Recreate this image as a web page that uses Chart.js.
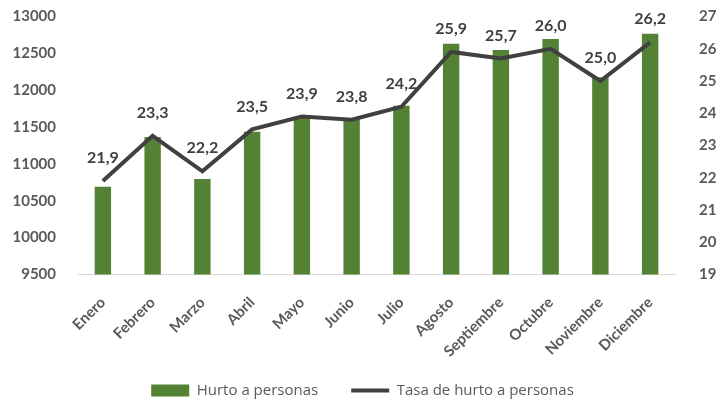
<!DOCTYPE html>
<html>
<head>
<meta charset="utf-8">
<script src="https://cdn.jsdelivr.net/npm/chart.js@4.4.1/dist/chart.umd.min.js"></script>
<style>
  html, body { margin: 0; padding: 0; background: #ffffff; }
  #wrap { width: 725px; height: 403px; position: relative; }
</style>
</head>
<body>
<div id="wrap"><canvas id="c" width="725" height="403"></canvas></div>
<script>
const months = ["Enero","Febrero","Marzo","Abril","Mayo","Junio","Julio","Agosto","Septiembre","Octubre","Noviembre","Diciembre"];
const hurtoPersonas = [10690, 11365, 10795, 11435, 11625, 11605, 11790, 12630, 12545, 12695, 12175, 12765];
const tasaHurto = [21.9, 23.3, 22.2, 23.5, 23.9, 23.8, 24.2, 25.9, 25.7, 26.0, 25.0, 26.2];
const leftTicks = [9500, 10000, 10500, 11000, 11500, 12000, 12500, 13000];
const rightTicks = [19, 20, 21, 22, 23, 24, 25, 26, 27];

const FONT = "Lato, 'Open Sans', sans-serif";
const LEGEND_FONT = "'Open Sans', Lato, sans-serif";
const GREEN = "#548235";
const DARK = "#404040";
const GREY = "#595959";

const labelPlugin = {
  id: 'lineLabels',
  afterDatasetsDraw(chart) {
    const meta = chart.getDatasetMeta(1);
    const ctx = chart.ctx;
    ctx.save();
    ctx.font = "bold 16px " + FONT;
    ctx.fillStyle = DARK;
    ctx.textAlign = 'center';
    ctx.textBaseline = 'middle';
    meta.data.forEach((pt, i) => {
      const v = chart.data.datasets[1].data[i];
      ctx.fillText(v.toFixed(1).replace('.', ','), pt.x, pt.y - 23);
    });
    ctx.restore();
  }
};

function fixVertical(scale, width) {
  scale.width = width;
  scale.paddingTop = 16.5;
  scale.paddingBottom = 0;
}

new Chart(document.getElementById('c'), {
  type: 'bar',
  data: {
    labels: months,
    datasets: [
      {
        type: 'bar',
        label: 'Hurto a personas',
        data: hurtoPersonas,
        backgroundColor: GREEN,
        yAxisID: 'y',
        order: 1,
        barPercentage: 0.33,
        categoryPercentage: 1.0
      },
      {
        type: 'line',
        label: 'Tasa de hurto a personas',
        data: tasaHurto,
        borderColor: DARK,
        backgroundColor: DARK,
        borderWidth: 4,
        pointRadius: 0,
        tension: 0,
        yAxisID: 'y1',
        order: 0
      }
    ]
  },
  options: {
    responsive: false,
    animation: false,
    devicePixelRatio: 1,
    layout: { padding: { top: 0, left: 0, right: 0, bottom: -5 } },
    plugins: {
      tooltip: { enabled: false },
      legend: {
        position: 'bottom',
        labels: {
          font: { family: LEGEND_FONT, size: 15 },
          color: GREY,
          usePointStyle: true,
          pointStyleWidth: 38,
          boxHeight: 12,
          padding: 33,
          generateLabels(chart) {
            return chart.data.datasets.map((ds, i) => ({
              text: ds.label,
              fillStyle: i === 0 ? GREEN : DARK,
              strokeStyle: i === 0 ? GREEN : DARK,
              lineWidth: i === 0 ? 0 : 4,
              pointStyle: i === 0 ? 'rect' : 'line',
              fontColor: GREY,
              hidden: false,
              datasetIndex: i
            }));
          }
        }
      }
    },
    scales: {
      x: {
        grid: { display: false },
        border: { display: true, color: '#d9d9d9', width: 1 },
        ticks: {
          font: { family: FONT, size: 15, weight: 'bold' },
          color: GREY,
          maxRotation: 45,
          minRotation: 45,
          autoSkip: false,
          padding: 11
        },
        afterFit(scale) {
          scale.height = 75.5;
          // let the rotated month labels extend below the axis box without clipping
          scale._computeLabelArea = function () { return undefined; };
        }
      },
      y: {
        position: 'left',
        min: 9500,
        max: 13000,
        afterBuildTicks(scale) { scale.ticks = leftTicks.map(v => ({ value: v })); },
        grid: { display: false },
        border: { display: false },
        ticks: {
          font: { family: FONT, size: 15, weight: 'bold' },
          color: GREY,
          padding: 14,
          callback: (v) => String(v)
        },
        afterFit(scale) { fixVertical(scale, 78); }
      },
      y1: {
        position: 'right',
        min: 19,
        max: 27,
        afterBuildTicks(scale) { scale.ticks = rightTicks.map(v => ({ value: v })); },
        grid: { display: false },
        border: { display: false },
        ticks: {
          font: { family: FONT, size: 15, weight: 'bold' },
          color: GREY,
          padding: 16,
          callback: (v) => String(v)
        },
        afterFit(scale) { fixVertical(scale, 50); }
      }
    }
  },
  plugins: [labelPlugin]
});
</script>
</body>
</html>
